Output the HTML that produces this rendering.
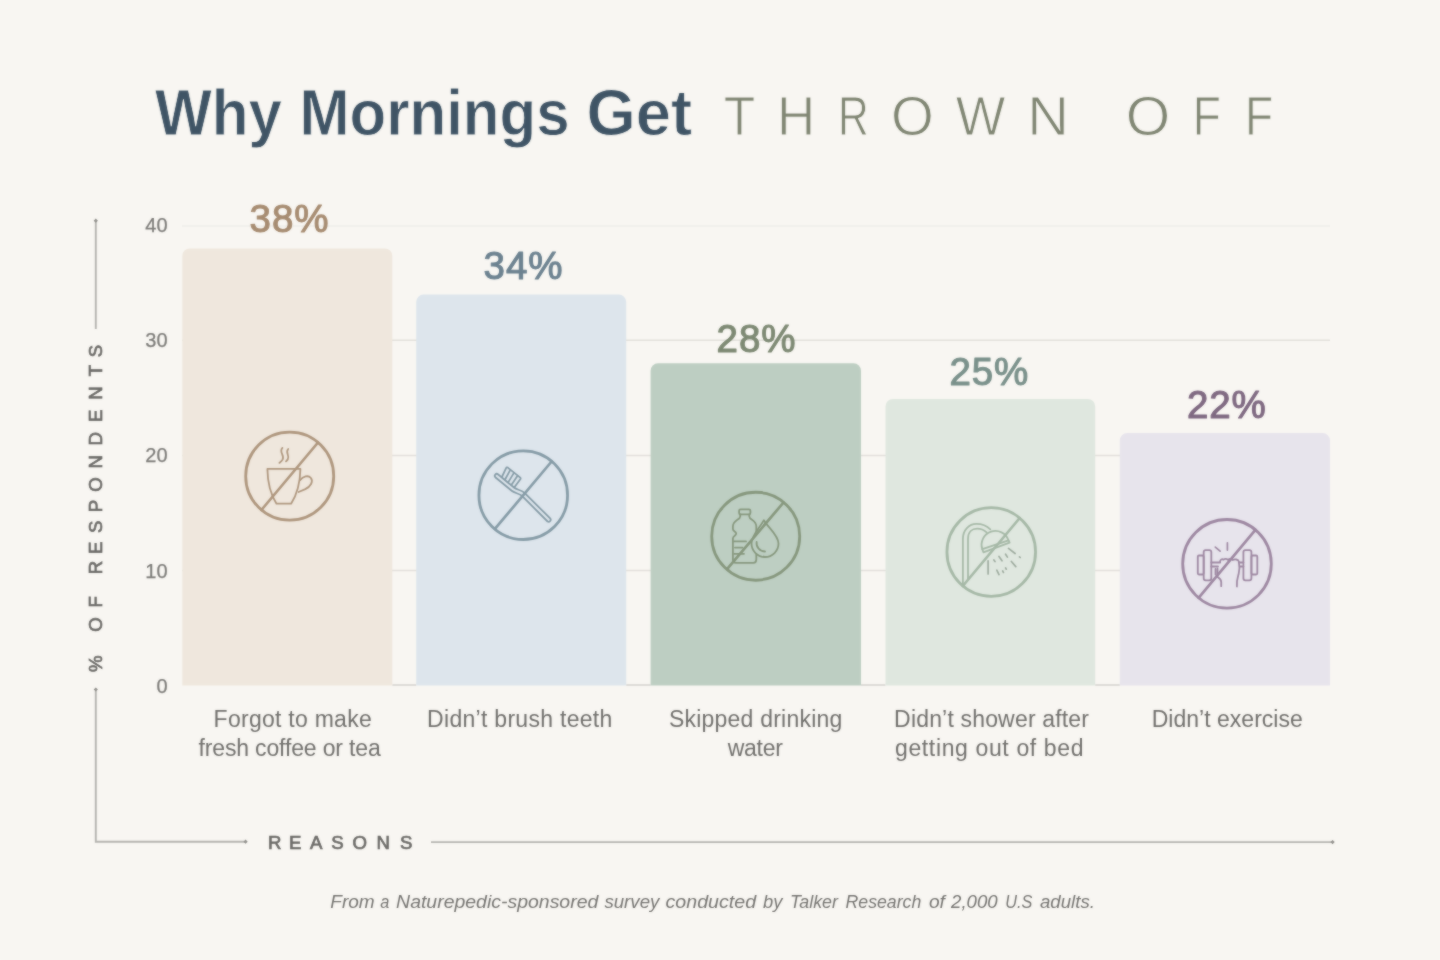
<!DOCTYPE html>
<html lang="en">
<head>
<meta charset="utf-8">
<title>Why Mornings Get Thrown Off</title>
<style>
html,body{margin:0;padding:0;background:#f8f6f2;}
body{width:1440px;height:960px;overflow:hidden;position:relative;font-family:"Liberation Sans",sans-serif;}
svg{position:absolute;left:0;top:0;display:block;filter:url(#soft);}
text{font-family:"Liberation Sans",sans-serif;}
.tick{font-size:20px;fill:#7a7976;stroke:#7a7976;stroke-width:.25px;text-anchor:end;}
.cat{font-size:23px;fill:#6f6e6b;}
.pct{font-size:38.5px;text-anchor:middle;letter-spacing:.9px;stroke-width:1.1px;stroke-linejoin:round;}
.axis{font-size:18.6px;fill:#6a6966;stroke:#6a6966;stroke-width:.7px;}
.grid line{stroke:#e1dfda;stroke-width:1.5;}
.ax{stroke:#b3b2ae;stroke-width:1.9;fill:none;}
.dot{fill:#8f8e8a;}
.ic{fill:none;stroke-width:1.8;stroke-linecap:round;stroke-linejoin:round;}
</style>
</head>
<body>
<svg width="1440" height="960" viewBox="0 0 1440 960">
<defs><filter id="soft" x="0" y="0" width="100%" height="100%" color-interpolation-filters="sRGB"><feGaussianBlur in="SourceGraphic" stdDeviation="1" result="b"/><feComposite in="SourceGraphic" in2="b" operator="arithmetic" k1="0" k2=".5" k3=".5" k4="0"/></filter></defs>
<rect width="1440" height="960" fill="#f8f6f2"/>

<!-- title -->
<text y="134.8" font-size="64" font-weight="bold" fill="#3f5465" stroke="#f8f6f2" stroke-width=".8"><tspan x="155" textLength="127" lengthAdjust="spacingAndGlyphs">Why</tspan> <tspan x="299.5" textLength="270" lengthAdjust="spacingAndGlyphs">Mornings</tspan> <tspan x="586.5" textLength="105.5" lengthAdjust="spacingAndGlyphs">Get</tspan></text>
<text id="thrown" y="134.5" font-size="56" fill="#7f8572" stroke="#f8f6f2" stroke-width="1"><tspan x="723.7" textLength="31.5" lengthAdjust="spacingAndGlyphs">T</tspan><tspan x="777.0" textLength="38.2" lengthAdjust="spacingAndGlyphs">H</tspan><tspan x="838.0" textLength="30.8" lengthAdjust="spacingAndGlyphs">R</tspan><tspan x="891.1" textLength="42.8" lengthAdjust="spacingAndGlyphs">O</tspan><tspan x="955.7" textLength="49.6" lengthAdjust="spacingAndGlyphs">W</tspan><tspan x="1027.2" textLength="41.7" lengthAdjust="spacingAndGlyphs">N</tspan> <tspan x="1125.7" textLength="44.5" lengthAdjust="spacingAndGlyphs">O</tspan><tspan x="1192.7" textLength="28.2" lengthAdjust="spacingAndGlyphs">F</tspan><tspan x="1245.0" textLength="28.2" lengthAdjust="spacingAndGlyphs">F</tspan></text>

<!-- gridlines -->
<g class="grid">
<line x1="182" x2="1330" y1="226" y2="226" style="stroke:#eeece8"/>
<line x1="182" x2="1330" y1="340.3" y2="340.3"/>
<line x1="182" x2="1330" y1="455.4" y2="455.4"/>
<line x1="182" x2="1330" y1="570.5" y2="570.5"/>
<path d="M392.3 685H416.2M626.2 685H650.6M861 685H885.5M1095.2 685H1119.8" style="stroke:#d2d1cd;stroke-width:1.5;fill:none"/>
</g>

<!-- tick labels -->
<g class="tick">
<text x="167.6" y="232.2">40</text>
<text x="167.6" y="347.3">30</text>
<text x="167.6" y="462.4">20</text>
<text x="167.6" y="577.5">10</text>
<text x="167.6" y="692.5">0</text>
</g>

<!-- bars -->
<path d="M182.3 685.6V255.9a7.5 7.5 0 0 1 7.5-7.5H384.8a7.5 7.5 0 0 1 7.5 7.5V685.6Z" fill="#efe7dd"/>
<path d="M416.2 685.6V302.0a7.5 7.5 0 0 1 7.5-7.5H618.7a7.5 7.5 0 0 1 7.5 7.5V685.6Z" fill="#dde5ec"/>
<path d="M650.6 685.6V370.8a7.5 7.5 0 0 1 7.5-7.5H853.5a7.5 7.5 0 0 1 7.5 7.5V685.6Z" fill="#bdcec2"/>
<path d="M885.5 685.6V406.4a7.5 7.5 0 0 1 7.5-7.5H1087.7a7.5 7.5 0 0 1 7.5 7.5V685.6Z" fill="#dfe7df"/>
<path d="M1119.8 685.6V440.6a7.5 7.5 0 0 1 7.5-7.5H1322.5a7.5 7.5 0 0 1 7.5 7.5V685.6Z" fill="#e7e4ec"/>

<!-- percent labels -->
<g class="pct">
<text x="289.5" y="232.3" fill="#a68b70" stroke="#a68b70">38%</text>
<text x="523.5" y="279.4" fill="#6b818f" stroke="#6b818f">34%</text>
<text x="756.5" y="352.4" fill="#7c8872" stroke="#7c8872">28%</text>
<text x="989.3" y="385.3" fill="#79908a" stroke="#79908a">25%</text>
<text x="1226.8" y="418.3" fill="#7e6880" stroke="#7e6880">22%</text>
</g>

<!-- category labels -->
<g class="cat">
<text x="213.6" y="727" textLength="158.1" lengthAdjust="spacing">Forgot to make</text>
<text x="198.5" y="755.7" textLength="182.2" lengthAdjust="spacing">fresh coffee or tea</text>
<text x="427.1" y="727" textLength="185.2" lengthAdjust="spacing">Didn’t brush teeth</text>
<text x="668.9" y="727" textLength="173.4" lengthAdjust="spacing">Skipped drinking</text>
<text x="727.7" y="755.7" textLength="55.2" lengthAdjust="spacing">water</text>
<text x="894.1" y="727" textLength="194.9" lengthAdjust="spacing">Didn’t shower after</text>
<text x="895.0" y="755.7" textLength="188.5" lengthAdjust="spacing">getting out of bed</text>
<text x="1151.7" y="727" textLength="151.1" lengthAdjust="spacing">Didn’t exercise</text>
</g>

<!-- axes -->
<path class="ax" d="M95.8 221V329"/>
<path class="ax" d="M95.8 690.5V841.7H245"/>
<path class="ax" d="M431 842.1H1332"/>
<path class="dot" d="M95.8 218.6l2.1 2.1l-2.1 2.1l-2.1-2.1zM95.8 687.4l2.1 2.1l-2.1 2.1l-2.1-2.1zM245.6 839.6l2.1 2.1l-2.1 2.1l-2.1-2.1zM1332.6 840l2.1 2.1l-2.1 2.1l-2.1-2.1z"/>
<text class="axis" transform="rotate(-90)" text-anchor="middle" y="102" x="-663.8 -645.0 -624.5 -601.7 -585.0 -567.5 -547.7 -526.9 -506.0 -484.6 -461.7 -438.8 -415.8 -393.0 -370.6 -351.0">% OF RESPONDENTS</text>
<text class="axis" text-anchor="middle" y="849.4" x="274.7 295.2 316.2 337.4 359.8 383.1 406.2">REASONS</text>

<!-- footer -->
<text id="foot" y="908.4" font-size="19" font-style="italic" fill="#73726f"><tspan x="330.3" textLength="44.4" lengthAdjust="spacingAndGlyphs">From</tspan> <tspan x="380.3" textLength="9.1" lengthAdjust="spacingAndGlyphs">a</tspan> <tspan x="396.1" textLength="202.2" lengthAdjust="spacingAndGlyphs">Naturepedic-sponsored</tspan> <tspan x="604.4" textLength="55.0" lengthAdjust="spacingAndGlyphs">survey</tspan> <tspan x="665.5" textLength="90.6" lengthAdjust="spacingAndGlyphs">conducted</tspan> <tspan x="763.0" textLength="19.4" lengthAdjust="spacingAndGlyphs">by</tspan> <tspan x="790.0" textLength="48.0" lengthAdjust="spacingAndGlyphs">Talker</tspan> <tspan x="845.5" textLength="75.8" lengthAdjust="spacingAndGlyphs">Research</tspan> <tspan x="928.9" textLength="16.0" lengthAdjust="spacingAndGlyphs">of</tspan> <tspan x="951.1" textLength="46.6" lengthAdjust="spacingAndGlyphs">2,000</tspan> <tspan x="1005.3" textLength="27.1" lengthAdjust="spacingAndGlyphs">U.S</tspan> <tspan x="1040.0" textLength="54.9" lengthAdjust="spacingAndGlyphs">adults.</tspan></text>

<!-- icons -->
<g id="icons">
<!-- icon 1: coffee -->
<g class="ic" stroke="#ae967d">
<circle cx="289.7" cy="476.2" r="44" stroke-width="2.8"/>
<path d="M267.4 468.9H300.4C300.2 482 296.5 495 291.1 503.7H276.5C271 495 267.6 482 267.4 468.9Z"/>
<path d="M300 480.2C303 476.3 308.3 474.8 310.9 478C313.6 481.6 310.5 486.6 305.3 489.1L298.6 492"/>
<path d="M282.4 447.9C278.5 452 285 455.5 282.6 459.6C281.8 461 280.5 462 279.4 462.9"/>
<path d="M288.2 449C284.8 452.6 290.2 455.8 287.8 459.4C287.2 460.2 286.6 460.9 286 461.4"/>
<path d="M261.4 510L318 442.5" stroke-width="2.7"/>
</g>
<!-- icon 2: toothbrush -->
<g class="ic" stroke="#859ba6">
<circle cx="523.25" cy="495.2" r="44.3" stroke-width="2.8"/>
<path d="M497.9 474.2L514.3 487.8C516.6 489.7 522 490.2 524.8 493.1L550.4 518.7A2.05 2.05 0 0 1 547.6 521.5L522 495.9C519.5 493.5 514.4 493.1 511.7 490.8L495.3 477.2A2 2 0 0 1 497.9 474.2Z"/>
<path d="M501.9 477L506.2 467.9Q506.8 466.9 507.8 467.6L520 477.4Q521 478.3 520.3 479.3L514.6 487"/>
<path d="M505.2 479.3L509.9 470.6M508.5 481.9L513.6 473.4M511.7 484.4L517.2 476.2"/>
<path d="M494.9 528.9L551.6 461.5" stroke-width="2.7"/>
</g>
<!-- icon 3: bottle + drop -->
<g class="ic" stroke="#86977d">
<circle cx="755.7" cy="536.25" r="44" stroke-width="2.8"/>
<rect x="739.1" y="509.3" width="11.3" height="5.1" rx="1.5"/>
<path d="M740.2 514.4V516.4C740.2 520 732.9 520 732.9 526.5V529C732.9 531.5 736.2 531.5 736.2 533.6C736.2 535.8 732.9 535.8 732.9 538.5V559.6Q732.9 562.9 735.9 562.9H753.4Q756.3 562.9 756.3 559.6V526.5C756.3 520 749.3 520 749.3 516.4V514.4"/>
<path d="M734 541.4H746M735 547.6H742.5M734 553.8H744"/>
<path d="M763.9 520.2C768 527.5 778.5 535 778.5 543.5A13.5 13.5 0 0 1 751.5 543.5C751.5 535 760 527.5 763.9 520.2Z" fill="#bdcec2"/>
<path d="M756.6 542A8.5 8.5 0 0 0 765 551.5"/>
<path d="M727.9 568.1L783.5 502.5" stroke-width="2.7"/>
</g>
<!-- icon 4: shower -->
<g class="ic" stroke="#a5b8a6">
<circle cx="991.25" cy="552" r="44.3" stroke-width="2.8"/>
<path d="M962.9 585V538.9C962.9 530 969 523.9 976.4 523.9C982 523.9 987 526 990.3 529.4"/>
<path d="M968 579V538.9C968 532 972 528.7 977.2 528.7C981 528.7 984 530 986.6 532.3"/>
<path d="M982.3 549.1A13.8 13.8 0 0 1 1008.5 540.3"/>
<path d="M982.3 549.1L1008.5 540.3L1009.6 542.6L983.4 552.3Z"/>
<path d="M988.1 560.8V573.9M993.9 560L995 561.5M999 556.4L1002 560.8M1005.6 554.2L1007.4 557.1M1008.5 548.4L1015.1 553.5M1019.5 556.8L1020.2 557.5M1011.4 561.5L1015.8 566.6M1005.6 568L1006.3 569.2M996.8 570.2L999 574.6M1002.7 571L1003.4 572.4" stroke-width="1.7" stroke="#9dab9e"/>
<path d="M962.8 586L1019.7 518" stroke-width="2.7"/>
</g>
<!-- icon 5: dumbbell -->
<g class="ic" stroke="#9d87a1">
<circle cx="1227" cy="563.8" r="44.3" stroke-width="2.8"/>
<rect x="1197.8" y="555.5" width="5.9" height="19" rx="1.2"/>
<rect x="1203.7" y="550.1" width="7.6" height="30.2" rx="2"/>
<rect x="1243.4" y="550.1" width="8" height="30.2" rx="2"/>
<rect x="1251.4" y="555.5" width="5.9" height="19" rx="1.2"/>
<path d="M1211.3 562.5H1220.2M1211.3 566.5H1218M1239.6 562.5H1243.4M1240 566.5H1243.4"/>
<path d="M1220.1 561.6C1220.1 559.5 1222 558.8 1223.6 559.6C1225 558.4 1227 558.6 1228 559.8C1229.5 558.8 1231.5 558.8 1232.6 560C1234.5 559 1238.5 559.2 1238.8 561.5C1239.5 565 1240 569 1238.7 573.8C1237.5 578 1236.3 581 1236.9 586.5"/>
<path d="M1215.5 569V574.5M1217.5 568.5V574M1217.2 576.7C1219 578 1221.2 579 1221.2 582V586.2"/>
<path d="M1215.3 547.1L1220.1 551.2M1227.4 542.8V550.1" stroke-width="1.7"/>
<path d="M1198.6 597.8L1255.4 529.8" stroke-width="2.7"/>
</g>
</g>
</svg>
</body>
</html>
